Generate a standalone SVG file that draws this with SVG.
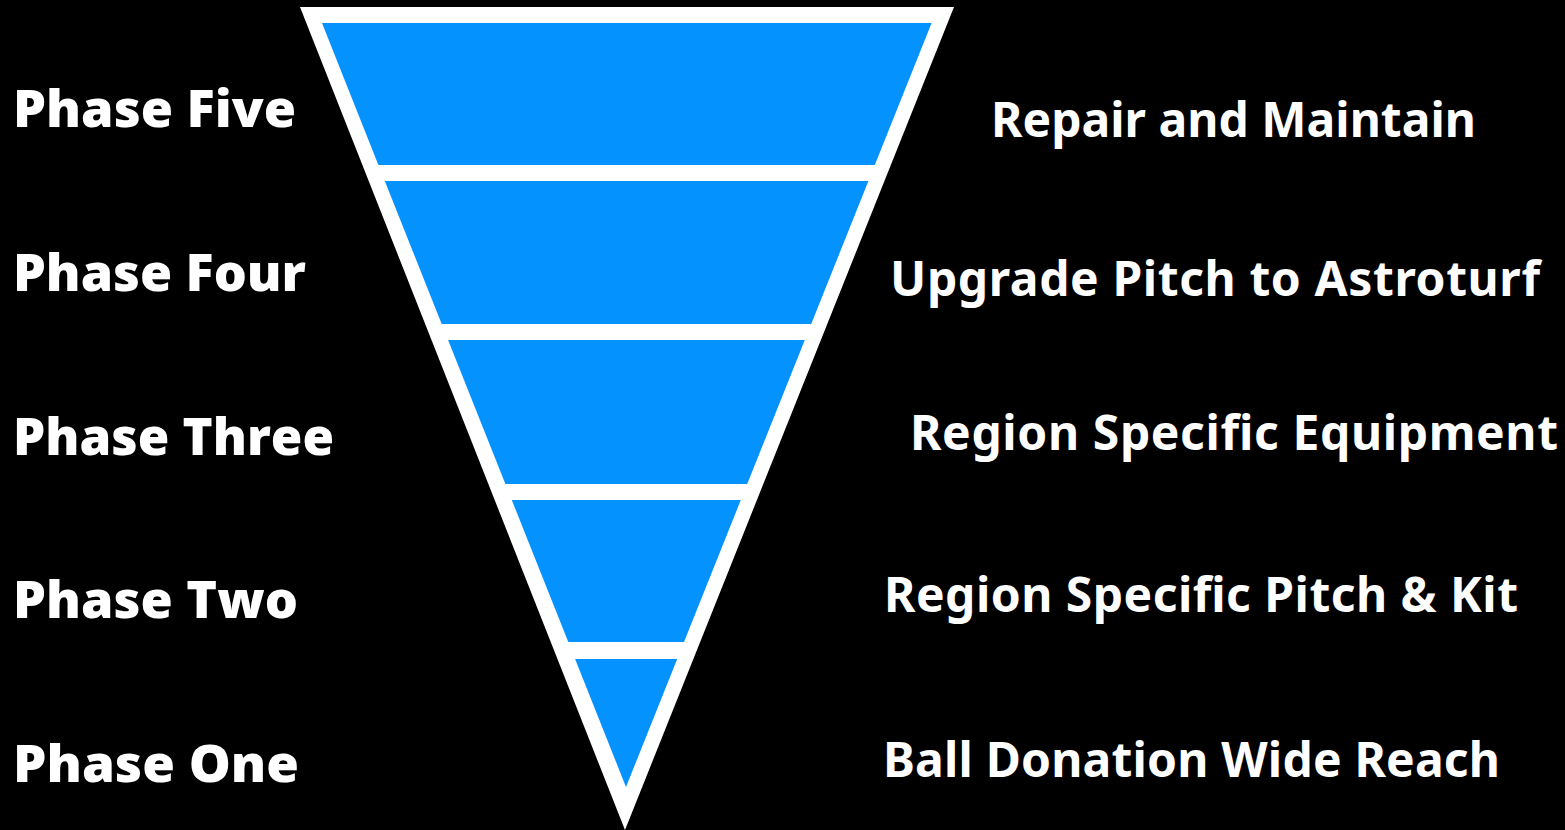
<svg xmlns="http://www.w3.org/2000/svg" width="1565" height="830" viewBox="0 0 1565 830">
  <style>
    .phase { font-family: "Open Sans", "Lato", "Liberation Sans", sans-serif; font-weight: 800; font-size: 52px; fill: #ffffff; }
    .label { font-family: "Noto Sans", "Open Sans", "Liberation Sans", sans-serif; font-weight: 700; font-size: 48px; fill: #ffffff; }
    .seg { fill: #0492FF; }
  </style>
  <rect x="0" y="0" width="1565" height="830" fill="#000000"/>
  <g id="funnel">
    <polygon points="300,7 954,7 625,830" fill="#ffffff"/>
    <polygon id="seg5" class="seg" points="322,23 931.6,23 874.8,165 378.4,165"/>
    <polygon id="seg4" class="seg" points="384.8,181 868.4,181 811.2,324 441.7,324"/>
    <polygon id="seg3" class="seg" points="448.1,340 804.8,340 747.2,484 505.4,484"/>
    <polygon id="seg2" class="seg" points="511.8,500 740.8,500 684,642 568.3,642"/>
    <polygon id="seg1" class="seg" points="575.1,659 677.2,659 626,787"/>
  </g>
  <g id="phase-labels">
    <text id="phase5" class="phase" x="13" y="127" textLength="283" lengthAdjust="spacingAndGlyphs">Phase Five</text>
    <text id="phase4" class="phase" x="13" y="291" textLength="293" lengthAdjust="spacingAndGlyphs">Phase Four</text>
    <text id="phase3" class="phase" x="13" y="455" textLength="321" lengthAdjust="spacingAndGlyphs">Phase Three</text>
    <text id="phase2" class="phase" x="13" y="618" textLength="285" lengthAdjust="spacingAndGlyphs">Phase Two</text>
    <text id="phase1" class="phase" x="13" y="782" textLength="286" lengthAdjust="spacingAndGlyphs">Phase One</text>
  </g>
  <g id="desc-labels">
    <text id="desc5" class="label" x="991" y="137" textLength="485">Repair and Maintain</text>
    <text id="desc4" class="label" x="890" y="296" textLength="650">Upgrade Pitch to Astroturf</text>
    <text id="desc3" class="label" x="910" y="450" textLength="648">Region Specific Equipment</text>
    <text id="desc2" class="label" x="884" y="612" textLength="634">Region Specific Pitch &amp; Kit</text>
    <text id="desc1" class="label" x="883" y="777" textLength="617">Ball Donation Wide Reach</text>
  </g>
</svg>
